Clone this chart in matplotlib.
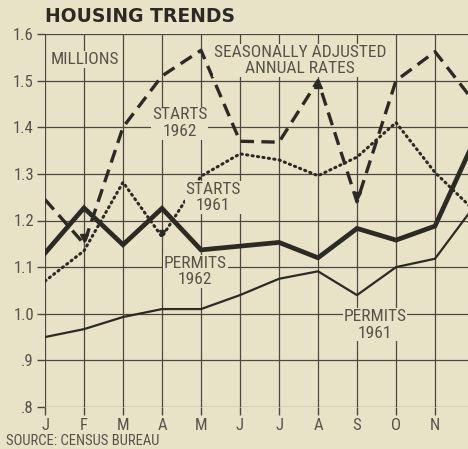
import numpy as np
import matplotlib.pyplot as plt

BG = '#e8e3c6'
INK = '#2b2a25'
GRID = '#4a4840'
LABEL = '#55534a'

months = ['J', 'F', 'M', 'A', 'M', 'J', 'J', 'A', 'S', 'O', 'N', 'D']
starts_1962 = [1.245, 1.15, 1.40, 1.51, 1.565, 1.37, 1.368, 1.50, 1.24, 1.50, 1.562, 1.455]
starts_1961 = [1.07, 1.135, 1.282, 1.165, 1.295, 1.343, 1.33, 1.296, 1.336, 1.41, 1.303, 1.222]
permits_1962 = [1.13, 1.227, 1.148, 1.226, 1.137, 1.145, 1.153, 1.12, 1.183, 1.158, 1.188, 1.37]
permits_1961 = [0.95, 0.967, 0.993, 1.01, 1.01, 1.04, 1.075, 1.091, 1.04, 1.10, 1.118, 1.23]
yticks = [0.8, 0.9, 1.0, 1.1, 1.2, 1.3, 1.4, 1.5, 1.6]
ytick_labels = ['.8', '.9', '1.0', '1.1', '1.2', '1.3', '1.4', '1.5', '1.6']

plt.rcParams['font.family'] = ['Roboto Condensed', 'Liberation Sans Narrow', 'Roboto', 'DejaVu Sans']

fig = plt.figure(figsize=(4.68, 4.49), dpi=100, facecolor=BG)
# December sits just past the right edge, as in the cropped original
ax = fig.add_axes([45 / 468, 42 / 449, 423 / 468, 373 / 449])
ax.set_facecolor(BG)

x = np.arange(len(months))
ax.set_xlim(0, 423 / 39)
ax.set_ylim(0.8, 1.6)

# D label would be cut at the edge, so only J..N get labels
ax.set_xticks(x[:11])
ax.set_xticklabels(months[:11], fontsize=12, color=LABEL)
ax.set_yticks(yticks)
ax.set_yticklabels(ytick_labels, fontsize=12, color=LABEL)
ax.tick_params(axis='both', length=6, width=1.0, color=GRID, pad=2)
ax.grid(True, color=GRID, linewidth=0.9)
ax.set_axisbelow(True)
for s in ax.spines.values():
    s.set_visible(False)

ax.plot(x, permits_1961, color=INK, lw=1.6, solid_capstyle='round', zorder=3)
ax.plot(x, permits_1962, color=INK, lw=3.4, solid_joinstyle='miter', zorder=4)
ax.plot(x, starts_1961, color=INK, lw=2.2, dashes=(0.4, 1.4), dash_capstyle='round', zorder=3)
ax.plot(x, starts_1962, color=INK, lw=2.4, dashes=(4.0, 2.2), zorder=4)

# little arrowheads printed at turning points
sx = [1, 8]
ax.plot(x[sx], [starts_1962[i] + 0.012 for i in sx], ls='none', marker='v', ms=6, color=INK, zorder=5)
ax.plot(x[7], starts_1962[7] - 0.008, ls='none', marker='^', ms=6, color=INK, zorder=5)
ax.plot(x[3], starts_1961[3] + 0.008, ls='none', marker='v', ms=4, color=INK, zorder=5)

box = dict(facecolor=BG, edgecolor='none', pad=0.6)
kw = dict(fontsize=12.5, color=LABEL, ha='center', va='center', linespacing=1.1, bbox=box, zorder=6)
ax.text(1.03, 1.545, 'MILLIONS', **kw)
ax.text(6.54, 1.543, 'SEASONALLY ADJUSTED\nANNUAL RATES', **kw)
ax.text(3.46, 1.409, 'STARTS\n1962', **kw)
ax.text(4.31, 1.25, 'STARTS\n1961', **kw)
ax.text(3.85, 1.09, 'PERMITS\n1962', **kw)
ax.text(8.46, 0.976, 'PERMITS\n1961', **kw)

fig.text(45 / 468, 1 - 17 / 449, 'HOUSING TRENDS', fontsize=13.5, fontweight='bold',
         color=INK, family=['DejaVu Sans'], ha='left', va='center')
fig.text(6 / 468, 1 - 441 / 449, 'SOURCE: CENSUS BUREAU', fontsize=10.5,
         color=LABEL, ha='left', va='center')

fig.savefig('out.png', dpi=100, facecolor=BG)
